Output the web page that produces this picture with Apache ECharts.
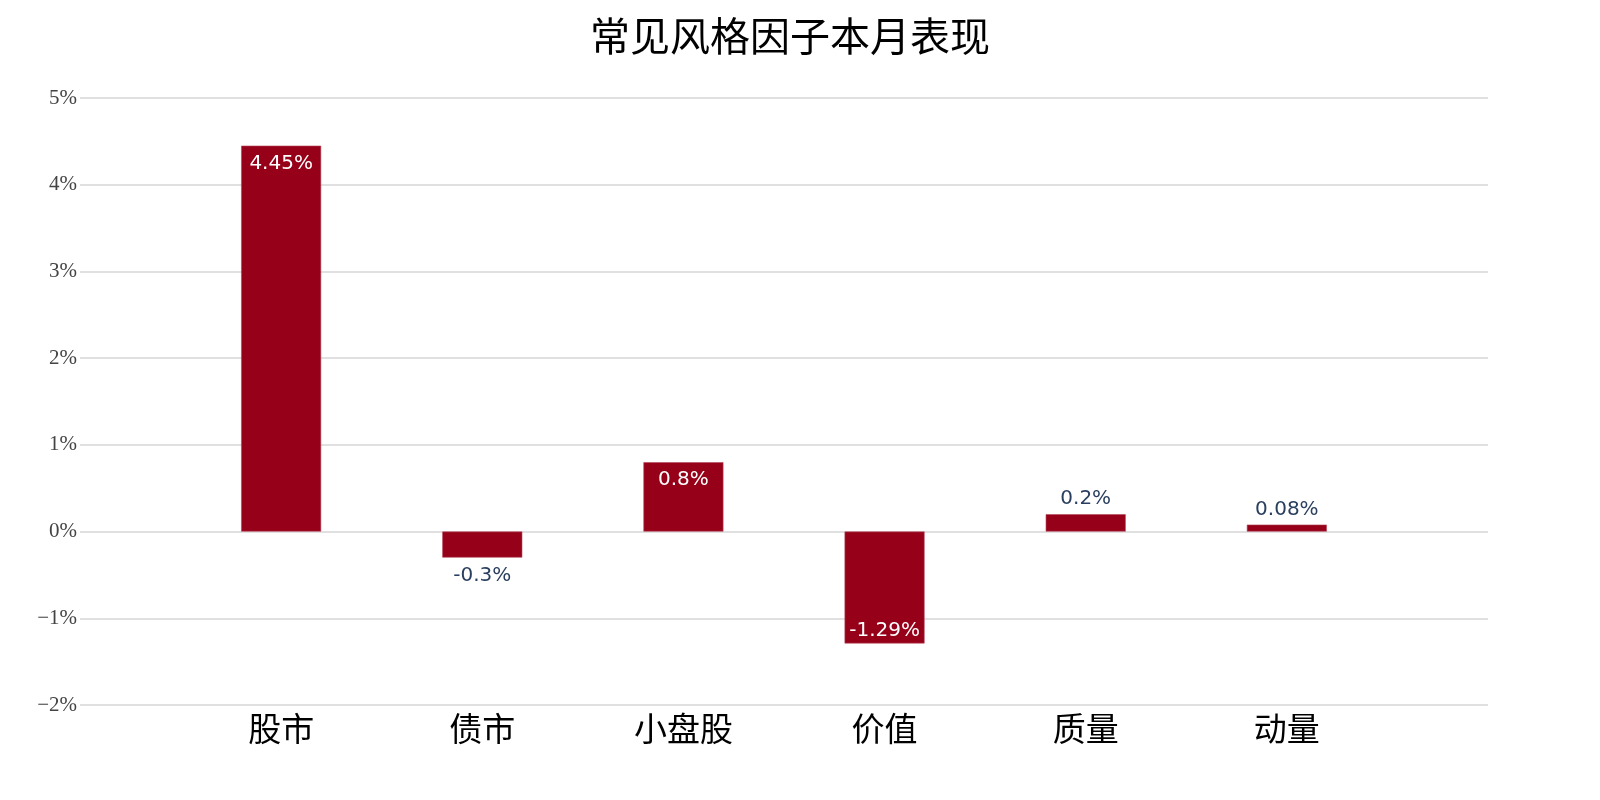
<!DOCTYPE html>
<html>
<head>
<meta charset="utf-8">
<script src="https://cdn.jsdelivr.net/npm/echarts@6/dist/echarts.min.js"></script>
<style>
html,body{margin:0;padding:0;background:#fff;}
#chart{width:1600px;height:800px;}
</style>
</head>
<body>
<div id="chart"></div>
<script>
const title = '常见风格因子本月表现';
const categories = ['股市', '债市', '小盘股', '价值', '质量', '动量'];
const values = [4.45, -0.3, 0.8, -1.29, 0.2, 0.08];
const yMin = -2, yMax = 5, yStep = 1;

// pad one empty slot on each side (axis range spans -1 .. 6 in category index)
const xCats = [''].concat(categories, ['']);
const barData = [null].concat(values.map(function (v) {
  const inside = Math.abs(v) >= 0.5;
  let pos, dist;
  if (inside) { pos = v >= 0 ? 'insideTop' : 'insideBottom'; dist = v >= 0 ? 8 : 3; }
  else { pos = v >= 0 ? 'top' : 'bottom'; dist = v >= 0 ? 5 : 8; }
  return {
    value: v,
    label: {
      position: pos,
      color: inside ? '#ffffff' : '#2a3f5f',
      distance: dist
    }
  };
}), [null]);

const chart = echarts.init(document.getElementById('chart'));
chart.setOption({
  backgroundColor: '#ffffff',
  animation: false,
  title: {
    text: title,
    left: 785,
    textAlign: 'center',
    top: 11,
    textStyle: {
      fontFamily: '"Noto Sans CJK SC", sans-serif',
      fontSize: 40,
      fontWeight: 'normal',
      color: '#000000'
    }
  },
  grid: { left: 80, right: 112, top: 98, bottom: 95, containLabel: false },
  xAxis: {
    type: 'category',
    data: xCats,
    boundaryGap: false,
    axisLine: { show: false },
    axisTick: { show: false },
    splitLine: { show: false },
    axisLabel: {
      interval: 0,
      margin: 7,
      color: '#000000',
      fontSize: 33,
      fontFamily: '"Noto Sans CJK SC", sans-serif'
    }
  },
  yAxis: {
    type: 'value',
    min: yMin,
    max: yMax,
    interval: yStep,
    axisLine: { show: false },
    axisTick: { show: false },
    splitLine: { show: true, lineStyle: { color: '#d6d6d6', width: 1.5 } },
    axisLabel: {
      margin: 3,
      color: '#444444',
      fontSize: 21,
      fontFamily: '"Liberation Serif", "DejaVu Serif", serif',
      formatter: function (v) {
        return (v < 0 ? '\u2212' + Math.abs(v) : v) + '%';
      }
    }
  },
  series: [{
    type: 'bar',
    data: barData,
    barWidth: 80,
    itemStyle: { color: '#960018', borderColor: '#b3475a', borderWidth: 0.6 },
    label: {
      show: true,
      fontFamily: '"DejaVu Sans", Verdana, sans-serif',
      fontSize: 20,
      formatter: function (p) { return p.value + '%'; }
    }
  }]
});
</script>
</body>
</html>
